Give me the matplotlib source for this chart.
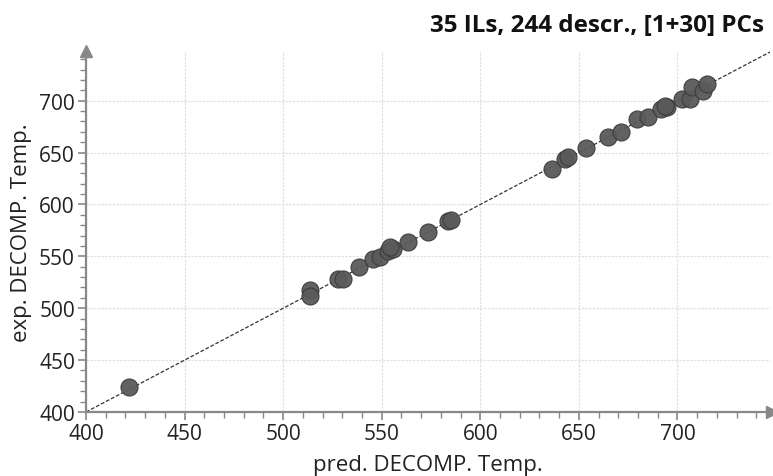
import matplotlib
matplotlib.use('agg')
import matplotlib.pyplot as plt
import numpy as np

pred_temp = [422, 513.7, 513.7, 527.9, 530.5, 538.6, 545.7, 549.0, 553.3, 555.8,
             554.3, 563.5, 573.6, 583.8, 585.3, 636.5, 643.1, 644.7, 653.8, 665.0,
             671.6, 679.7, 684.8, 691.4, 694.9, 693.9, 702.5, 706.6, 707.6, 712.7,
             715.2]
exp_temp = [424, 517.6, 512.0, 528.0, 528.0, 539.8, 547.5, 549.5, 555.3, 557.2,
            559.1, 563.9, 573.6, 584.2, 585.2, 634.3, 644.0, 645.9, 654.6, 665.2,
            670.0, 682.5, 684.5, 692.2, 694.1, 695.0, 701.8, 701.8, 713.4, 709.5,
            716.3]

title = '35 ILs, 244 descr., [1+30] PCs'
x_label = 'pred. DECOMP. Temp.'
y_label = 'exp. DECOMP. Temp.'
ticks = [400, 450, 500, 550, 600, 650, 700]

plt.rcParams['font.family'] = ['Open Sans', 'DejaVu Sans']

fig = plt.figure(figsize=(7.73, 4.77), dpi=100)
ax = fig.add_axes([0.1113, 0.1342, 0.885, 0.757])

x_lo, x_hi = 400, 747
y_lo, y_hi = 400, 748
ax.set_xlim(x_lo, x_hi)
ax.set_ylim(y_lo, y_hi)

# identity line
ax.plot([x_lo, x_hi], [x_lo, x_hi], color='#333333', lw=0.9, ls=(0, (3, 1.5)), zorder=2)

ax.scatter(pred_temp, exp_temp, s=150, facecolor='#5a5a5a', edgecolor='#3c3c3c',
           linewidth=0.8, alpha=0.95, zorder=3)

ax.set_xticks(ticks)
ax.set_yticks(ticks)
ax.set_xticks(np.arange(400, 750, 10), minor=True)
ax.set_yticks(np.arange(400, 750, 10), minor=True)
ax.grid(True, which='major', color='#e0e0e0', ls=(0, (2, 1)), lw=0.9)
ax.set_axisbelow(True)

axis_col = '#888888'
for s in ['top', 'right']:
    ax.spines[s].set_visible(False)
for s in ['left', 'bottom']:
    ax.spines[s].set_color(axis_col)
    ax.spines[s].set_linewidth(1.6)
ax.tick_params(which='major', length=6, width=1.2, color=axis_col,
               labelsize=15, labelcolor='#222222', pad=2)
ax.tick_params(which='minor', length=4, width=1.0, color=axis_col)

# arrow heads at the end of the axes
ax.plot(1.003, 0, '>', color=axis_col, ms=9, transform=ax.transAxes, clip_on=False)
ax.plot(0, 1.0, '^', color=axis_col, ms=9, transform=ax.transAxes, clip_on=False)

ax.set_xlabel(x_label, fontsize=16, color='#222222', labelpad=7)
ax.set_ylabel(y_label, fontsize=16, color='#222222', labelpad=5)

fig.text(0.988, 0.945, title, ha='right', va='center', fontsize=17.5,
         fontweight='bold', color='#111111')

plt.savefig('out.png', dpi=100)
